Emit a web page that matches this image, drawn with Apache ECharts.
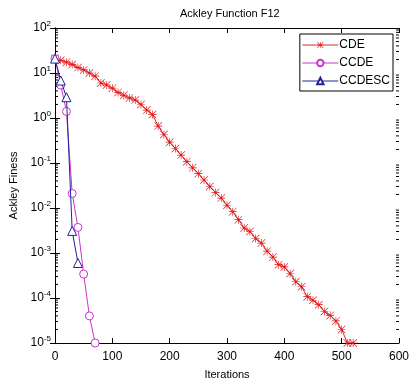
<!DOCTYPE html>
<html><head><meta charset="utf-8">
<script src="https://cdn.jsdelivr.net/npm/echarts@6/dist/echarts.min.js"></script>
<style>html,body{margin:0;padding:0;background:#fff}#c{width:418px;height:385px}</style>
</head><body><div id="c"></div>
<script>
const titleText = 'Ackley Function F12';
const xName = 'Iterations';
const yName = 'Ackley Finess';
const xTicks = [0, 100, 200, 300, 400, 500, 600];
const yDecades = [-5, -4, -3, -2, -1, 0, 1, 2];

const cdeIter = [0,10,20,30,40,50,60,70,80,90,100,110,120,130,140,150,160,170,180,190,200,210,220,230,240,250,260,270,280,290,300,310,320,330,340,350,360,370,380,390,400,410,420,430,440,450,460,470,480,490,500,510,520];
const cdeVal = [20.9,19.1,17.4,15.5,13.2,11.7,10.0,8.5,6.0,5.4,4.6,3.7,3.2,2.8,2.5,2.0,1.5,1.2,0.66,0.43,0.29,0.21,0.15,0.107,0.078,0.058,0.042,0.030,0.022,0.0166,0.0115,0.0083,0.0055,0.0036,0.0030,0.0021,0.00166,0.0011,0.00081,0.00055,0.00049,0.00035,0.00023,0.000178,0.000107,0.000089,0.000071,0.00005,0.000041,0.000031,0.00002,0.00001,0.00001];

const ccdeIter = [0,10,20,30,40,50,60,70];
const ccdeVal = [20.9,5.4,1.4,0.021,0.0037,0.00034,0.00004,0.00001];

const ccdescIter = [0,10,20,30,40];
const ccdescVal = [20.9,6.8,2.9,0.0031,0.0006];

const pairs = (xs, ys) => xs.map((x, i) => [x, ys[i]]);

const minorVals = [];
for (let k = -5; k < 2; k++) for (let m = 2; m <= 9; m++) minorVals.push([0, m * Math.pow(10, k)]);

const starPath = 'path://M9.2,0L10.8,0L10.8,20L9.2,20Z M0,9.2L20,9.2L20,10.8L0,10.8Z M1.1,0L20,18.9L18.9,20L0,1.1Z M18.9,0L20,1.1L1.1,20L0,18.9Z';

const font = 'Liberation Sans, Arial, sans-serif';
const chart = echarts.init(document.getElementById('c'), null, {renderer: 'canvas'});

const logLabel = {
  fontFamily: font, color: '#000', fontSize: 12, margin: 4,
  formatter: v => '{b|10}{s|' + Math.round(Math.log10(v)) + '}',
  rich: {
    b: {fontFamily: font, fontSize: 12, color: '#000'},
    s: {fontFamily: font, fontSize: 8, color: '#000', padding: [0, 0, 9, 0]}
  }
};

chart.setOption({
  animation: false,
  backgroundColor: '#fff',
  title: {
    text: titleText, left: 175, top: 3,
    textStyle: {fontFamily: font, fontSize: 11, fontWeight: 'normal', color: '#000'}
  },
  legend: {
    orient: 'vertical', right: 25, top: 34,
    data: ['CDE', 'CCDE', 'CCDESC'],
    borderColor: '#000', borderWidth: 1, backgroundColor: '#fff', borderRadius: 0,
    padding: [5, 3, 4, 2], itemGap: 6, itemWidth: 36, itemHeight: 8,
    lineStyle: {width: 1},
    textStyle: {fontFamily: font, fontSize: 12, color: '#000', padding: [0, 0, 0, -4]}
  },
  grid: {left: 55, right: 19, top: 28, bottom: 34},
  xAxis: [{
    type: 'value', min: 0, max: 600, interval: 100, position: 'bottom',
    name: xName, nameLocation: 'middle', nameGap: 26,
    nameTextStyle: {fontFamily: font, fontSize: 11, color: '#000'},
    axisLine: {show: true, lineStyle: {color: '#000'}},
    axisTick: {inside: true, length: 5, lineStyle: {color: '#000'}},
    axisLabel: {fontFamily: font, fontSize: 12, color: '#000', margin: 8,
      formatter: v => xTicks.includes(v) ? String(v) : ''},
    splitLine: {show: false}
  }, {
    type: 'value', min: 0, max: 600, interval: 100, position: 'top',
    axisLine: {show: true, lineStyle: {color: '#000'}},
    axisTick: {inside: true, length: 5, lineStyle: {color: '#000'}},
    axisLabel: {show: false}, splitLine: {show: false}
  }],
  yAxis: [{
    type: 'log', logBase: 10, min: 1e-5, max: 100, position: 'left',
    name: yName, nameLocation: 'middle', nameGap: 32, nameRotate: 90,
    nameTextStyle: {fontFamily: font, fontSize: 11, color: '#000'},
    axisLine: {show: true, lineStyle: {color: '#000'}},
    axisTick: {inside: true, length: 5, lineStyle: {color: '#000'}},
    axisLabel: logLabel,
    splitLine: {show: false}
  }, {
    type: 'log', logBase: 10, min: 1e-5, max: 100, position: 'right',
    axisLine: {show: true, lineStyle: {color: '#000'}},
    axisTick: {inside: true, length: 5, lineStyle: {color: '#000'}},
    axisLabel: {show: false}, splitLine: {show: false}
  }],
  series: [{
    name: 'CDE', type: 'line', data: pairs(cdeIter, cdeVal),
    symbol: starPath, symbolSize: 8, showAllSymbol: true,
    lineStyle: {color: '#c83030', width: 1},
    itemStyle: {color: '#e01010'}, z: 3
  }, {
    name: 'CCDE', type: 'line', data: pairs(ccdeIter, ccdeVal),
    symbol: 'circle', symbolSize: 8, showAllSymbol: true,
    lineStyle: {color: '#cc33cc', width: 1},
    itemStyle: {color: '#fff', borderColor: '#cc33cc', borderWidth: 1}, z: 4
  }, {
    name: 'CCDESC', type: 'line', data: pairs(ccdescIter, ccdescVal),
    symbol: 'triangle', symbolSize: 9, showAllSymbol: true,
    lineStyle: {color: '#22229a', width: 1},
    itemStyle: {color: '#fff', borderColor: '#22229a', borderWidth: 1}, z: 5
  }, {
    type: 'custom', data: minorVals, silent: true, clip: false, z: 1,
    renderItem: (params, api) => {
      const y = api.coord([0, api.value(1)])[1];
      const cs = params.coordSys;
      return {type: 'group', children: [
        {type: 'line', shape: {x1: cs.x, y1: y, x2: cs.x + 3, y2: y}, style: {stroke: '#000', lineWidth: 1}},
        {type: 'line', shape: {x1: cs.x + cs.width - 3, y1: y, x2: cs.x + cs.width, y2: y}, style: {stroke: '#000', lineWidth: 1}}
      ]};
    }
  }]
});
</script>
</body></html>
